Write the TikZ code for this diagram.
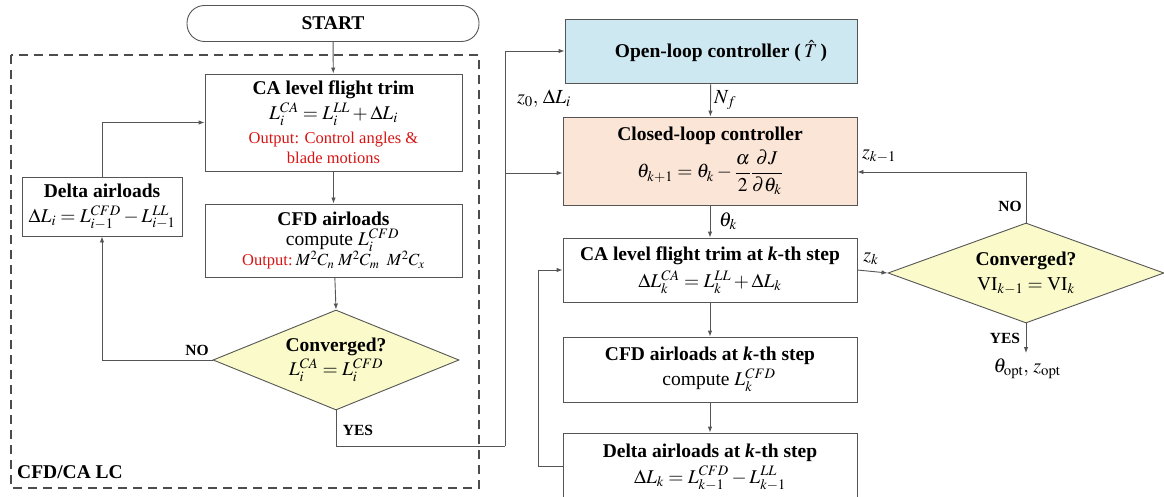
\documentclass[tikz,border=0pt]{standalone}
\usepackage{mathptmx}
\usepackage[no-math]{fontspec}
\setmainfont{Liberation Serif}
\usetikzlibrary{arrows.meta,shapes.geometric,calc}
\definecolor{linec}{RGB}{85,85,85}
\definecolor{openfill}{RGB}{206,232,241}
\definecolor{closedfill}{RGB}{251,229,214}
\definecolor{diafill}{RGB}{250,250,202}
\definecolor{outred}{RGB}{215,20,20}
\newcommand{\myTi}{\fontsize{19.5}{23}\selectfont\bfseries}
\newcommand{\myRd}{\fontsize{16.5}{19}\selectfont\color{outred}}
\begin{document}
\begin{tikzpicture}[x=1pt,y=-1pt,
  box/.style={draw=linec,line width=0.9pt,rectangle,inner sep=0pt,align=center,
    font=\fontsize{19.5}{23}\selectfont},
  dia/.style={draw=linec,line width=0.9pt,diamond,inner sep=0pt,fill=diafill,align=center,
    font=\fontsize{19.5}{23}\selectfont},
  ln/.style={draw=linec,line width=0.9pt},
  arr/.style={draw=linec,line width=0.9pt,-{Latex[length=6pt,width=4.5pt]}},
  lbl/.style={inner sep=0pt,font=\fontsize{20}{22}\selectfont},
  yn/.style={inner sep=0pt,font=\fontsize{15.5}{18}\selectfont\bfseries}
]
\useasboundingbox (0,0) rectangle (1164,497);
\clip (0,0) rectangle (1164,497);

% dashed region
\draw[draw=linec!90!black,line width=1.6pt,dash pattern=on 9pt off 6pt] (11,55) rectangle (479,488);
\node[anchor=west,inner sep=0pt,font=\fontsize{19.5}{23}\selectfont\bfseries] (lc) at (17,472) {CFD/CA LC};

% left column
\node[draw=linec,line width=0.9pt,rounded corners=17.5pt,minimum width=292pt,minimum height=36pt,
  inner sep=0pt,font=\fontsize{19.5}{23}\selectfont\bfseries] (start) at (333,23.5) {START};

\node[box,minimum width=257pt,minimum height=97pt] (ca) at (333.5,122.5)
  {{\myTi CA level flight trim}\\[2pt]
   $L_i^{CA} = L_i^{LL} + \Delta L_i$\\[1pt]
   {\myRd Output: Control angles \&}\\[-3pt]
   {\myRd blade motions}};

\node[box,minimum width=257pt,minimum height=73pt] (cfd) at (333.5,240.5)
  {{\myTi CFD airloads}\\[-3pt]
   \hspace*{18pt}compute $L_i^{CFD}$\\[-3pt]
   {\myRd Output:}\,{\fontsize{17}{19}\selectfont$M^2C_n\;M^2C_m\;\;M^2C_x$}};

\node[dia,shape aspect=2.46,minimum width=246pt,minimum height=100pt] (conv1) at (336,360)
  {{\myTi Converged?}\\[1pt] $L_i^{CA} = L_i^{CFD}$};

\node[box,minimum width=160pt,minimum height=59pt] (delta) at (102,206.5)
  {{\myTi Delta airloads}\\[2pt] $\Delta L_i = L_{i-1}^{CFD} - L_{i-1}^{LL}$};

% right column
\node[box,fill=openfill,minimum width=292pt,minimum height=64pt] (open) at (711,51)
  {\hspace*{20pt}{\myTi Open-loop controller (\,$\hat{T}$\,)}};

\node[box,fill=closedfill,minimum width=294pt,minimum height=88pt] (closed) at (710,161)
  {{\myTi Closed-loop controller}\\[4pt]
   $\displaystyle \theta_{k+1} = \theta_k - \frac{\alpha}{2}\frac{\partial J}{\partial \theta_k}$};

\node[box,minimum width=294pt,minimum height=64pt] (cak) at (710,270)
  {{\myTi CA level flight trim at \textit{k}-th step}\\[4pt]
   $\Delta L_k^{CA} = L_k^{LL} + \Delta L_k$};

\node[box,minimum width=294pt,minimum height=65pt] (cfdk) at (710,369.5)
  {{\myTi CFD airloads at \textit{k}-th step}\\[2pt]
   \hspace*{18pt}compute $L_k^{CFD}$};

\node[box,minimum width=294pt,minimum height=68pt] (deltak) at (710,467)
  {{\myTi Delta airloads at \textit{k}-th step}\\[3pt]
   $\Delta L_k = L_{k-1}^{CFD} - L_{k-1}^{LL}$};

\node[dia,shape aspect=2.76,minimum width=276pt,minimum height=100pt] (conv2) at (1026,273)
  {{\myTi Converged?}\\[2pt] $\mathrm{VI}_{k-1} = \mathrm{VI}_k$};

% coordinates for connectors
\coordinate (yb) at (505,446);
\coordinate (br) at (505,173);
\coordinate (fb) at (538,270);
\coordinate (nt) at (1026,172);
\coordinate (yend) at (1026,353);

% left connectors
\draw[arr] (start) -- (ca);
\draw[arr] (ca) -- (cfd);
\draw[arr] (cfd) -- (conv1.north);
\draw[arr] (conv1.west) -| (delta.south);
\draw[arr] (delta.north) |- (ca.west);
\draw[ln] (conv1.south) |- (yb);
\draw[arr] (yb) |- (open.west);
\draw[arr] (br) -- (br -| closed.west);

\node[yn] (no1) at (197,350) {NO};
\node[yn] (yes1) at (358,430) {YES};

% right connectors
\draw[arr] (open) -- (closed);
\draw[arr] (closed) -- (cak);
\draw[arr] (cak) -- (cfdk);
\draw[arr] (cfdk) -- (deltak);
\draw[arr] (deltak.west |- 0,466) -| (fb) -- (fb -| cak.west);
\draw[arr] (cak.east) -- (conv2.west);
\draw[arr] (conv2.north) -- (nt) -- (nt -| closed.east);
\draw[arr] (conv2.south) -- (yend);

\node[lbl] (z0) at (544,99) {$z_0,\,\Delta L_i$};
\node[lbl,anchor=west] (nf) at (714,100) {$N_f$};
\node[lbl,anchor=west] (thk) at (719,221) {$\theta_k$};
\node[lbl] (zk) at (871,259) {$z_k$};
\node[lbl] (zk1) at (879,156) {$z_{k-1}$};
\node[yn] (no2) at (1010,206) {NO};
\node[yn] (yes2) at (1005,338) {YES};
\node[lbl] (opt) at (1027,369) {$\theta_{\mathrm{opt}},\, z_{\mathrm{opt}}$};
\end{tikzpicture}
\end{document}
